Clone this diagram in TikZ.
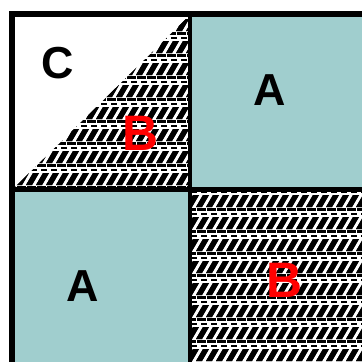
\documentclass[tikz,border=0pt]{standalone}
\usepackage{fontspec}
\setmainfont{Liberation Sans}
\usepackage{tikz}

\definecolor{teal}{RGB}{160,206,206}

% one tile of the black and white woven texture, top left corner at (#1,#2)
\newcommand{\weavetile}[2]{
    \fill[black] (#1,#2) rectangle ++(6,2.5);
    \fill[black] (#1+7,#2) rectangle ++(3,2.5);
    \fill[black] (#1+1,#2+5) rectangle ++(6,2);
    \fill[black] (#1-4,#2+21) -- ++(6,0) -- ++(7,-12) -- ++(-6,0) -- cycle;
    \fill[black] (#1+6,#2+21) -- ++(6,0) -- ++(7,-12) -- ++(-6,0) -- cycle;
}

\begin{document}
\begin{tikzpicture}[
    x=1bp, y=-1bp,
    cell/.style={fill=teal},
    letter/.style={font=\fontsize{45}{45}\selectfont\bfseries, inner sep=0pt},
    red letter/.style={letter, font=\fontsize{50}{50}\selectfont\bfseries, text=red}
]
\useasboundingbox (0,0) rectangle (362,362);

% frame and dividers
\fill[black] (9,11) rectangle (362,362);

\fill[white] (15,17) rectangle (188,187);
\path[cell] (192,17) rectangle (362,187);
\path[cell] (15,192) rectangle (188,362);
\fill[white] (192,192) rectangle (362,362);

% woven half of the top left cell
\begin{scope}
    \clip (15,187) -- (188,17) -- (188,187) -- cycle;
    \foreach \x in {10,20,...,200}
        \foreach \y in {10,32,...,186}
            \weavetile{\x}{\y};
\end{scope}

% woven bottom right cell
\begin{scope}
    \clip (192,192) rectangle (362,362);
    \foreach \x in {180,190,...,370}
        \foreach \y in {186,208,...,362}
            \weavetile{\x}{\y};
\end{scope}

\node[letter] (c) at (58,63) {C};
\node[red letter] (b1) at (140,133) {B};
\node[letter] (a1) at (269.5,90) {A};
\node[letter] (a2) at (83,286) {A};
\node[red letter] (b2) at (284,280) {B};

\end{tikzpicture}
\end{document}
